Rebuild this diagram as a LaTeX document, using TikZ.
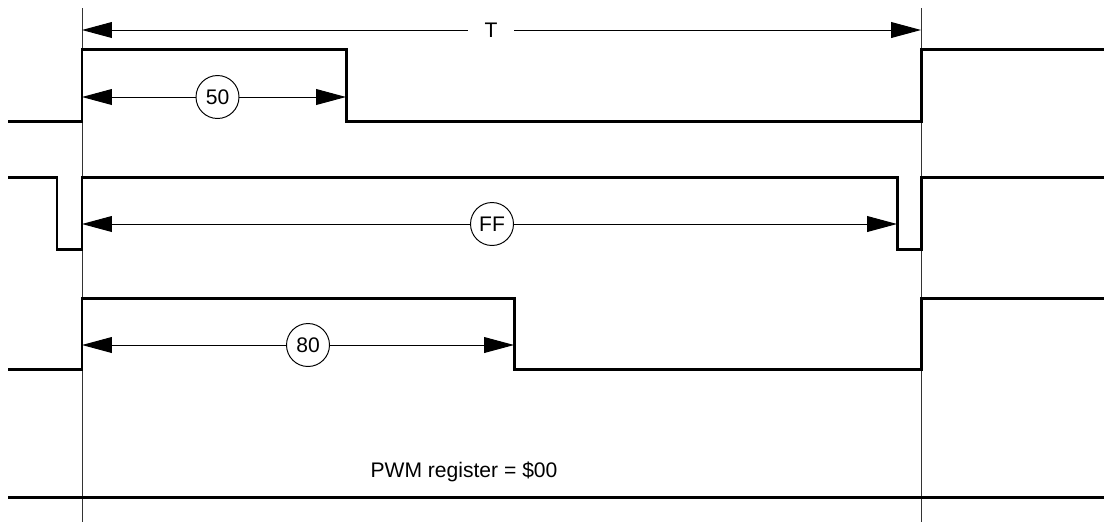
\documentclass[tikz,border=0pt]{standalone}
\usepackage{fontspec}
\setmainfont{Liberation Sans}
\usetikzlibrary{positioning,arrows.meta}

\begin{document}
\begin{tikzpicture}[
        x=0.02cm, y=-0.02cm,
        wave/.style={line width=1.7pt, line join=miter},
        guide/.style={line width=0.55pt, draw=black!80},
        dim/.style={{Triangle[length=17pt,width=9pt]}-{Triangle[length=17pt,width=9pt]}, line width=0.55pt},
        tag/.style={circle, draw, line width=0.55pt, fill=white, minimum size=0.86cm, inner sep=0pt, font=\fontsize{12}{14}\selectfont},
        lbl/.style={fill=white, inner sep=2pt, font=\fontsize{12}{14}\selectfont}
    ]
        \useasboundingbox (0,0) rectangle (1104,522);

        % period markers
        \coordinate (s0) at (82,30);
        \coordinate (s1) at (921,30);
        \draw[guide] (82,8) -- (82,522);
        \draw[guide] (921,8) -- (921,522);
        \draw[dim] (s0) -- (s1);
        \node[lbl, inner xsep=9.5pt] (period) at (491,30) {T};

        % PWM = $50
        \draw[wave] (8,121) -- (82,121) -- (82,49) -- (346,49) -- (346,121) -- (921,121) -- (921,49) -- (1104,49);
        \coordinate (a0) at (82,97);
        \coordinate (a1) at (346,97);
        \draw[dim] (a0) -- (a1);
        \node[tag] (fifty) at (217.5,97) {50};

        % PWM = $FF
        \draw[wave] (8,177) -- (57,177) -- (57,249) -- (82,249) -- (82,177) -- (897,177) -- (897,249) -- (921,249) -- (921,177) -- (1104,177);
        \coordinate (b0) at (82,224);
        \coordinate (b1) at (897,224);
        \draw[dim] (b0) -- (b1);
        \node[tag] (full) at (492,224) {FF};

        % PWM = $80
        \draw[wave] (8,369) -- (82,369) -- (82,298) -- (514,298) -- (514,369) -- (921,369) -- (921,298) -- (1104,298);
        \coordinate (c0) at (82,345);
        \coordinate (c1) at (514,345);
        \draw[dim] (c0) -- (c1);
        \node[tag] (half) at (308,345) {80};

        % PWM = $00
        \draw[wave] (8,497) -- (1104,497);
        \node[font=\fontsize{12}{14}\selectfont] (zero) at (464,472) {PWM register = \$00};
    \end{tikzpicture}
\end{document}
